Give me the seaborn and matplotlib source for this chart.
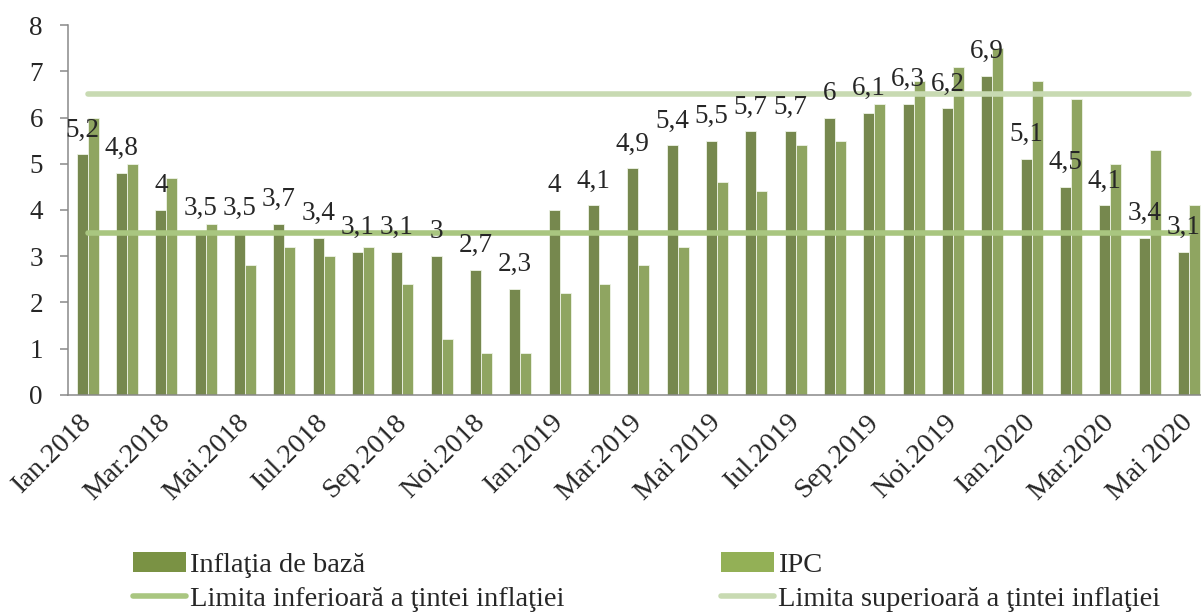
import numpy as np
import pandas as pd
import matplotlib
matplotlib.use("Agg")
import matplotlib.pyplot as plt
import seaborn as sns
from matplotlib.patches import Patch
from matplotlib.lines import Line2D


months = [
    "Ian.2018", "Feb.2018", "Mar.2018", "Apr.2018", "Mai.2018", "Iun.2018",
    "Iul.2018", "Aug.2018", "Sep.2018", "Oct.2018", "Noi.2018", "Dec.2018",
    "Ian.2019", "Feb.2019", "Mar.2019", "Apr.2019", "Mai 2019", "Iun.2019",
    "Iul.2019", "Aug.2019", "Sep.2019", "Oct.2019", "Noi.2019", "Dec.2019",
    "Ian.2020", "Feb.2020", "Mar.2020", "Apr.2020", "Mai 2020",
]

core = [5.2, 4.8, 4, 3.5, 3.5, 3.7, 3.4, 3.1, 3.1, 3, 2.7, 2.3,
        4, 4.1, 4.9, 5.4, 5.5, 5.7, 5.7, 6, 6.1, 6.3, 6.2, 6.9,
        5.1, 4.5, 4.1, 3.4, 3.1]

ipc = [6.0, 5.0, 4.7, 3.7, 2.8, 3.2, 3.0, 3.2, 2.4, 1.2, 0.9, 0.9,
       2.2, 2.4, 2.8, 3.2, 4.6, 4.4, 5.4, 5.5, 6.3, 6.8, 7.1, 7.5,
       6.8, 6.4, 5.0, 5.3, 4.1]

lower_limit = [3.5] * len(months)
upper_limit = [6.5] * len(months)

series_names = ["Inflaţia de bază", "IPC"]
line_names = ["Limita inferioară a ţintei inflaţiei",
              "Limita superioară a ţintei inflaţiei"]

c_core = "#7A9244"
c_ipc = "#93B056"
c_low = "#A9C680"
c_up = "#C8DAB2"
axis_gray = "#898989"

df = pd.DataFrame({
    "luna": months * 2,
    "valoare": core + ipc,
    "serie": [series_names[0]] * len(months) + [series_names[1]] * len(months),
})

sns.set_style("white")
plt.rcParams["font.family"] = ["Liberation Serif", "DejaVu Serif"]
plt.rcParams["font.size"] = 19

fig = plt.figure(figsize=(12.01, 6.16), dpi=100)
ax = fig.add_axes([0.0566, 0.3588, 0.9497, 0.6006])

sns.barplot(
    data=df, x="luna", y="valoare", hue="serie",
    palette=[c_core, c_ipc], width=0.56, gap=0,
    edgecolor="#EEF3E6", linewidth=0.6,
    legend=False, ax=ax, zorder=2,
)

x = np.arange(len(months))
ax.plot(x, lower_limit, color=c_low, lw=4, solid_capstyle="round", zorder=3)
ax.plot(x, upper_limit, color=c_up, lw=4, solid_capstyle="round", zorder=3)

labels = [f"{v:g}".replace(".", ",") for v in core]
ax.bar_label(ax.containers[0], labels=labels, padding=8.5,
             fontsize=19.5, zorder=4)

ax.set_xlim(-0.5, len(months) - 0.5)
ax.set_ylim(0, 8)
ax.set_yticks(range(0, 9))
ax.set_xlabel("")
ax.set_ylabel("")

ax.set_xticks(x[::2])
ax.set_xticklabels(months[::2], rotation=45, ha="right",
                   rotation_mode="anchor", va="center")
ax.set_xticks(np.arange(-0.5, len(months), 1), minor=True)
ax.tick_params(axis="x", which="major", length=0, pad=17, labelsize=20.5)
ax.tick_params(axis="x", which="minor", length=6, width=1.1,
               color=axis_gray, direction="out")
ax.tick_params(axis="y", length=6, width=1.1, color=axis_gray,
               direction="out", pad=12, labelsize=19.5, left=True)

for s in ["top", "right"]:
    ax.spines[s].set_visible(False)
for s in ["left", "bottom"]:
    ax.spines[s].set_color(axis_gray)
    ax.spines[s].set_linewidth(1.1)

handles = [
    Patch(facecolor=c_core, edgecolor="none"),
    Line2D([0], [0], color=c_low, lw=4, solid_capstyle="round"),
    Patch(facecolor=c_ipc, edgecolor="none"),
    Line2D([0], [0], color=c_up, lw=4, solid_capstyle="round"),
]
names = [series_names[0], line_names[0], series_names[1], line_names[1]]
fig.legend(handles, names, ncol=2, loc="upper left",
           bbox_to_anchor=(0.1107, 0.104), frameon=False, fontsize=20.5,
           handlelength=1.85, handleheight=0.7, handletextpad=0.15,
           labelspacing=0.3, columnspacing=5.5, borderpad=0,
           borderaxespad=0)

fig.savefig("out.png", dpi=100)
